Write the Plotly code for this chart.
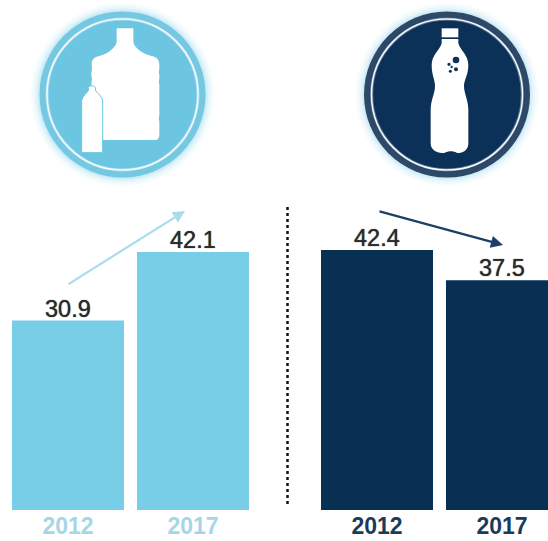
import plotly.graph_objects as go

WIDTH, HEIGHT = 548, 541

years = ["2012", "2017"]
large_format_values = [30.9, 42.1]
small_format_values = [42.4, 37.5]

LIGHT_BLUE = "#79cee7"
NAVY = "#083052"
LABEL_DARK = "#2b2b2b"
LIGHT_TICK = "#a6d6e6"
DARK_TICK = "#1c3a5a"


def px(x):
    return x / WIDTH


def py(y):
    return 1 - y / HEIGHT


def icon_path(segments, ox, oy, scale=1 / 3):
    """Turn a list of (command, points...) in icon space into a paper-space SVG path."""
    parts = []
    for cmd, *pts in segments:
        coords = " ".join(
            f"{px(ox + pts[i] * scale):.5f},{py(oy + pts[i + 1] * scale):.5f}"
            for i in range(0, len(pts), 2)
        )
        parts.append(f"{cmd} {coords}".strip())
    return " ".join(parts)


def disc(cx, cy, r, **kwargs):
    return dict(
        type="circle", xref="paper", yref="paper",
        x0=px(cx - r), x1=px(cx + r), y0=py(cy + r), y1=py(cy - r),
        layer="below", **kwargs,
    )


def badge(cx, cy, halo, rim, face):
    shapes = []
    for r, op in [(92, 0.06), (90, 0.08), (88, 0.12), (86, 0.18), (84.5, 0.25)]:
        shapes.append(disc(cx, cy, r, fillcolor=halo, opacity=op, line_width=0))
    shapes.append(disc(cx, cy, 83, fillcolor=rim, line_width=0))
    shapes.append(disc(cx, cy, 77.5, fillcolor=face, line_width=0))
    shapes.append(disc(cx, cy, 75.5, fillcolor="rgba(0,0,0,0)",
                       line=dict(color="rgba(255,255,255,0.3)", width=3.5)))
    shapes.append(disc(cx, cy, 75.5, fillcolor="rgba(0,0,0,0)",
                       line=dict(color="#f6fbfd", width=1.5)))
    return shapes


def solid(path, color="#ffffff", line_color=None):
    return dict(
        type="path", xref="paper", yref="paper", path=path, fillcolor=color,
        line=dict(color=line_color or color, width=1 if line_color else 0),
        layer="below",
    )


# Large water jug, with the moulded ribs along both flanks
jug = [
    ("M", 290, 85), ("L", 340, 85), ("L", 340, 125),
    ("C", 342, 140, 360, 158, 395, 168),
    ("C", 412, 172, 418, 180, 418, 195),
    ("C", 420, 205, 414, 215, 418, 225),
    ("C", 420, 235, 414, 245, 418, 255),
    ("L", 418, 335),
    ("C", 420, 345, 414, 355, 418, 365),
    ("L", 418, 405), ("C", 418, 414, 414, 420, 405, 420),
    ("L", 250, 420), ("L", 215, 300), ("L", 215, 260),
    ("C", 212, 250, 218, 240, 215, 230),
    ("C", 212, 220, 218, 210, 215, 195),
    ("C", 215, 180, 220, 172, 238, 168),
    ("C", 270, 158, 288, 140, 290, 125), ("Z",),
]
small_bottle = [
    ("M", 205, 262), ("C", 208, 256, 222, 256, 226, 262), ("L", 227, 272),
    ("C", 232, 280, 246, 288, 248, 302),
    ("L", 248, 458), ("L", 185, 458), ("L", 185, 302),
    ("C", 187, 288, 200, 280, 205, 272), ("Z",),
]
soda_cap = [("M", 305, 85), ("L", 355, 85), ("L", 355, 112), ("L", 305, 112), ("Z",)]
soda_body = [
    ("M", 305, 117), ("L", 355, 117), ("L", 355, 130),
    ("C", 360, 150, 385, 165, 385, 195),
    ("C", 385, 225, 372, 240, 372, 258),
    ("C", 372, 280, 385, 300, 385, 330),
    ("L", 385, 430),
    ("C", 385, 452, 365, 462, 350, 458),
    ("C", 340, 452, 325, 452, 315, 458),
    ("C", 295, 462, 272, 452, 272, 430),
    ("L", 272, 330),
    ("C", 272, 300, 285, 280, 285, 258),
    ("C", 285, 240, 275, 225, 275, 195),
    ("C", 275, 165, 300, 150, 305, 130), ("Z",),
]
bubble_spots = [(348, 180, 10), (327, 193, 5), (348, 208, 6), (331, 214, 4.5), (335, 201, 3.5)]

value_font = dict(family="Liberation Sans", size=23.5, color=LABEL_DARK,
                  shadow="0 0 1px #2b2b2b")

fig = go.Figure()
fig.add_bar(
    x=years, y=large_format_values, xaxis="x", yaxis="y",
    marker=dict(color=LIGHT_BLUE, line_width=0),
)
fig.add_bar(
    x=years, y=small_format_values, xaxis="x2", yaxis="y",
    marker=dict(color=NAVY, line_width=0),
)


def value_labels_for(xref, values):
    # Category axes position annotations by the category's serial number
    return [
        dict(
            xref=xref, yref="y", x=i, y=value, text=f"{value:.1f}",
            showarrow=False, yanchor="bottom", yshift=-3, font=value_font,
        )
        for i, value in enumerate(values)
    ]


value_labels = value_labels_for("x", large_format_values) + value_labels_for("x2", small_format_values)

shapes = []
shapes += badge(122.5, 94.5, "#9fdcf0", "#74c8e2", "#6cc5e1")
shapes += badge(447, 94.5, "#a9dcf0", "#2d4869", "#0c3158")

OX_LEFT, OX_RIGHT = 20, 340
shapes.append(solid(icon_path(jug, OX_LEFT, 0)))
shapes.append(solid(icon_path(small_bottle, OX_LEFT, 0), line_color="#6cc5e1"))
shapes.append(solid(icon_path(soda_cap, OX_RIGHT, 0)))
shapes.append(solid(icon_path(soda_body, OX_RIGHT, 0)))
for bx, by, br in bubble_spots:
    shapes.append(disc(OX_RIGHT + bx / 3, by / 3, br / 3, fillcolor="#0c3158", line_width=0))

# Dotted divider between the two panels
shapes.append(dict(
    type="line", xref="paper", yref="paper",
    x0=px(287.5), x1=px(287.5), y0=py(207), y1=py(507),
    line=dict(color="#111111", width=2.5, dash="dot"),
))


def trend_arrow(x0, y0, x1, y1, color):
    return dict(
        xref="paper", yref="paper", x=px(x1), y=py(y1),
        axref="pixel", ayref="pixel", ax=x0 - x1, ay=y0 - y1,
        text="", showarrow=True, arrowhead=2, arrowsize=1.1,
        arrowwidth=2.2, arrowcolor=color,
    )


axis_y_top = 0
axis_y_bottom = 510
px_per_unit = 6.13

tick_common = dict(
    showgrid=False, zeroline=False, showline=False, automargin=False,
    ticks="", ticklen=0,
)

fig.update_layout(
    width=WIDTH, height=HEIGHT, autosize=False,
    margin=dict(l=0, r=0, t=0, b=0),
    paper_bgcolor="white", plot_bgcolor="rgba(0,0,0,0)",
    showlegend=False, barmode="group", bargap=0.104,
    shapes=shapes,
    annotations=[
        trend_arrow(67, 285, 185, 211, "#a9dcec"),
        trend_arrow(378, 211, 503, 245, "#1d3f66"),
    ] + value_labels,
    xaxis=dict(
        type="category", domain=[px(5.5), px(255.5)], range=[-0.5, 1.5],
        tickfont=dict(family="Liberation Sans", size=23, color=LIGHT_TICK, weight="bold"),
        **tick_common,
    ),
    xaxis2=dict(
        type="category", domain=[px(314.5), 1], range=[-0.5, (WIDTH - 377) / 125],
        anchor="y",
        tickfont=dict(family="Liberation Sans", size=23, color=DARK_TICK, weight="bold"),
        **tick_common,
    ),
    yaxis=dict(
        domain=[py(axis_y_bottom), py(axis_y_top)],
        range=[0, (axis_y_bottom - axis_y_top) / px_per_unit],
        visible=False, automargin=False,
    ),
)

fig.write_html("out.html", config=dict(displayModeBar=False))
